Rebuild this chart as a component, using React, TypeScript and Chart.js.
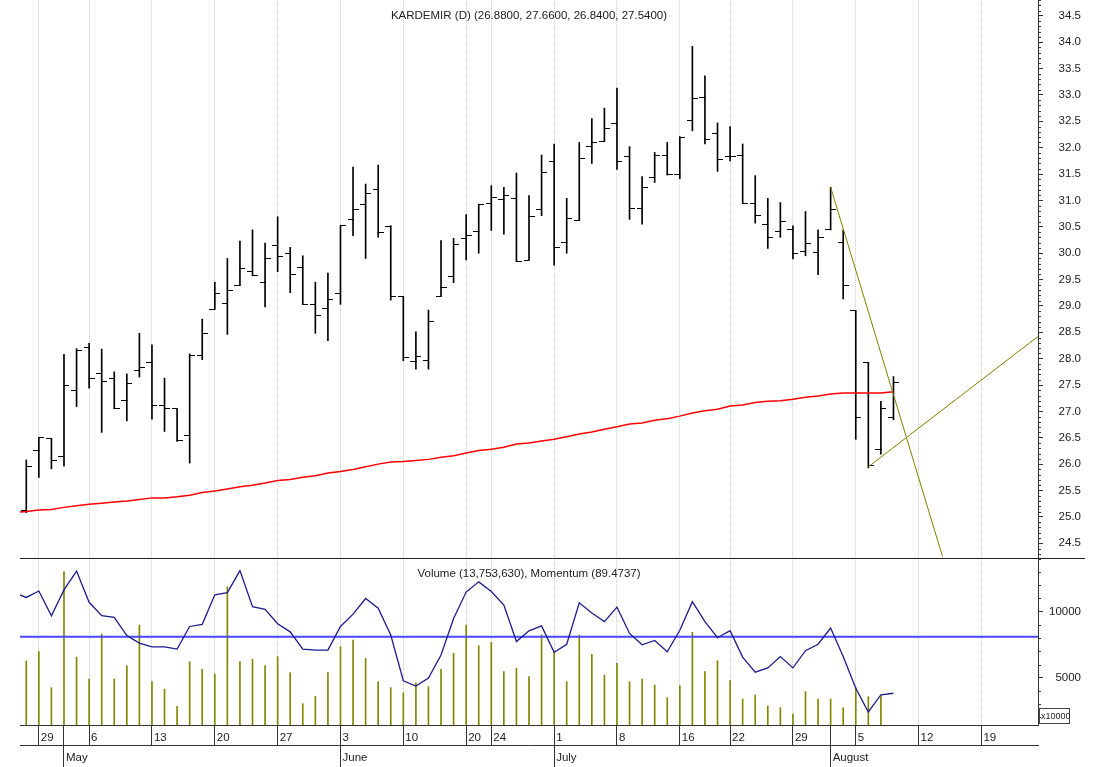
import React, { useEffect, useRef } from 'react';
import { Chart, registerables } from 'chart.js';

Chart.register(...registerables);

// ---------------- data ----------------
const SYMBOL = 'KARDEMIR';
const PERIOD = 'D';

const DATES = [
  '2024-04-25', '2024-04-26', '2024-04-29', '2024-04-30', '2024-05-02', '2024-05-03',
  '2024-05-06', '2024-05-07', '2024-05-08', '2024-05-09', '2024-05-10',
  '2024-05-13', '2024-05-14', '2024-05-15', '2024-05-16', '2024-05-17',
  '2024-05-20', '2024-05-21', '2024-05-22', '2024-05-23', '2024-05-24',
  '2024-05-27', '2024-05-28', '2024-05-29', '2024-05-30', '2024-05-31',
  '2024-06-03', '2024-06-04', '2024-06-05', '2024-06-06', '2024-06-07',
  '2024-06-10', '2024-06-11', '2024-06-12', '2024-06-13', '2024-06-14',
  '2024-06-20', '2024-06-21',
  '2024-06-24', '2024-06-25', '2024-06-26', '2024-06-27', '2024-06-28',
  '2024-07-01', '2024-07-02', '2024-07-03', '2024-07-04', '2024-07-05',
  '2024-07-08', '2024-07-09', '2024-07-10', '2024-07-11', '2024-07-12',
  '2024-07-16', '2024-07-17', '2024-07-18', '2024-07-19',
  '2024-07-22', '2024-07-23', '2024-07-24', '2024-07-25', '2024-07-26',
  '2024-07-29', '2024-07-30', '2024-07-31', '2024-08-01', '2024-08-02',
  '2024-08-05', '2024-08-06', '2024-08-07', '2024-08-08', '2024-08-09',
  '2024-08-12', '2024-08-13', '2024-08-14', '2024-08-15', '2024-08-16',
  '2024-08-19', '2024-08-20', '2024-08-21', '2024-08-22', '2024-08-23',
];

const MONTH_NAMES = ['January', 'February', 'March', 'April', 'May', 'June', 'July',
  'August', 'September', 'October', 'November', 'December'];

const OPEN = [null,
  25.12, 26.26, 26.49, 26.14, 27.39, 28.22, 27.72, 27.63, 27.20, 27.77,
  27.93, 27.11, 27.05, 26.54, 28.06, 28.94, 29.04, 29.39, 29.65, 29.45,
  30.15, 29.99, 29.73, 29.03, 28.96, 29.24, 30.64, 30.93, 31.21, 30.50,
  29.18, 27.94, 27.96, 29.18, 29.56, 30.27, 30.42, 30.95, 31.02, 31.04,
  29.87, 30.83, 31.74, 30.20, 30.62, 32.02, 32.12, 32.45, 31.84, 30.85,
  31.43, 31.86, 31.50, 32.51, 32.95, 32.26, 31.83, 31.86, 30.95, 30.55,
  30.41, 30.44, 30.03, 30.02, 30.44, 30.20, 28.91, 27.93, 26.27, 26.88];
const HIGH = [null,
  26.08, 26.51, 26.49, 28.08, 28.19, 28.29, 28.18, 27.75, 27.71, 28.48,
  28.26, 27.63, 27.05, 28.09, 28.75, 29.45, 29.90, 30.23, 30.44, 30.19,
  30.69, 30.11, 29.95, 29.45, 29.62, 30.52, 31.63, 31.31, 31.67, 30.52,
  29.18, 28.51, 28.92, 30.24, 30.28, 30.73, 30.93, 31.28, 31.25, 31.52,
  31.09, 31.86, 32.07, 31.04, 32.10, 32.55, 32.75, 33.13, 32.02, 31.45,
  31.91, 32.10, 32.21, 33.92, 33.36, 32.47, 32.40, 32.07, 31.47, 31.04,
  30.96, 30.52, 30.79, 30.44, 31.25, 30.44, 28.91, 27.93, 27.19, 27.66];
const LOW = [null,
  25.08, 25.75, 25.91, 25.96, 27.09, 27.44, 26.60, 27.05, 26.82, 27.65,
  26.85, 26.62, 26.43, 26.02, 27.98, 28.94, 28.46, 29.39, 29.57, 28.98,
  29.65, 29.25, 29.03, 28.48, 28.34, 29.03, 30.33, 29.90, 30.30, 29.11,
  27.96, 27.80, 27.80, 29.18, 29.44, 29.87, 30.00, 30.43, 30.36, 29.84,
  29.87, 30.71, 29.77, 30.00, 30.62, 31.70, 32.12, 31.59, 30.64, 30.55,
  31.34, 31.48, 31.41, 32.32, 32.07, 31.55, 31.75, 30.95, 30.57, 30.09,
  30.30, 29.89, 29.95, 29.59, 30.44, 29.13, 26.47, 25.93, 26.19, 26.84];
const CLOSE = [null,
  25.95, 26.51, 26.07, 27.49, 28.15, 27.63, 27.56, 27.05, 27.52, 27.84,
  27.11, 27.05, 26.44, 28.06, 28.47, 29.24, 29.29, 29.71, 29.57, 29.90,
  29.94, 29.59, 29.03, 28.82, 29.13, 30.52, 30.83, 31.14, 30.39, 29.18,
  28.03, 28.05, 28.70, 29.35, 30.16, 30.33, 30.93, 31.06, 31.09, 29.84,
  30.69, 31.53, 30.10, 30.66, 31.79, 32.09, 32.37, 31.74, 30.85, 31.24,
  31.86, 31.50, 32.20, 32.93, 32.15, 31.78, 31.84, 30.95, 30.71, 30.30,
  30.60, 29.99, 30.18, 30.30, 30.83, 29.39, 26.89, 25.97, 27.06, 27.54];

// volume in units of 10000 shares
const VOLUME_X10000 = [null,
  6265, 6970, 4242, 13030, 6568, 4901, 8311, 4901, 5909, 8992,
  4697, 4144, 2833, 6212, 5636, 5280, 11894, 6212, 6394, 5909,
  6591, 5379, 3030, 3591, 5379, 7348, 7856, 6470, 4697, 4242,
  3864, 4621, 4318, 5636, 6848, 8992, 7424, 7682, 5455, 5712,
  5076, 8235, 6970, 4697, 8235, 6773, 5205, 6091, 4697, 4901,
  4447, 3485, 4394, 8439, 5455, 6288, 4773, 3386, 3689, 2856,
  2727, 2250, 3939, 3386, 3386, 2727, 4242, 3561, 3689, 1375.363];

const MOMENTUM = [108.2,
  107.3, 108.5, 103.9, 108.7, 112.2, 106.4, 103.9, 103.6, 100.2, 98.8,
  98.1, 98.1, 97.7, 101.9, 102.3, 107.8, 108.2, 112.3, 105.6, 105.1,
  102.4, 100.9, 97.7, 97.5, 97.5, 101.9, 104.2, 107.1, 105.3, 100.3,
  91.8, 90.8, 92.3, 96.6, 103.4, 108.3, 110.2, 108.4, 105.9, 99.1,
  101.1, 102.0, 97.1, 98.6, 106.3, 104.4, 102.8, 105.5, 100.6, 98.5,
  99.3, 97.2, 101.2, 106.5, 102.8, 99.8, 101.1, 96.2, 93.4, 94.2,
  96.3, 94.2, 97.4, 98.6, 101.6, 96.3, 90.4, 86.0, 89.2, 89.4737];
const MOMENTUM_REFERENCE = 100;

const MOVING_AVERAGE = [25.08,
  25.10, 25.13, 25.14, 25.18, 25.21, 25.24, 25.26, 25.28, 25.30, 25.33,
  25.36, 25.36, 25.38, 25.41, 25.46, 25.49, 25.53, 25.57, 25.60, 25.64,
  25.69, 25.71, 25.75, 25.78, 25.83, 25.86, 25.90, 25.95, 26.00, 26.04,
  26.05, 26.07, 26.09, 26.13, 26.16, 26.21, 26.26, 26.28, 26.32, 26.38,
  26.40, 26.44, 26.47, 26.52, 26.57, 26.61, 26.66, 26.71, 26.76, 26.78,
  26.83, 26.86, 26.91, 26.97, 27.01, 27.04, 27.10, 27.12, 27.17, 27.19,
  27.20, 27.23, 27.27, 27.29, 27.33, 27.35, 27.35, 27.35, 27.35, 27.37];

// trend lines: x = position in DATES, y = price
const TREND_DOWN = [{ x: 65, y: 31.25 }, { x: 73.9, y: 24.25 }];
const TREND_UP = [{ x: 68, y: 25.95 }, { x: 81.5, y: 28.42 }];

const PRICE_TICKS = [24.5, 25.0, 25.5, 26.0, 26.5, 27.0, 27.5, 28.0, 28.5, 29.0, 29.5,
  30.0, 30.5, 31.0, 31.5, 32.0, 32.5, 33.0, 33.5, 34.0, 34.5];
const VOLUME_TICKS = [5000, 10000];
const PRICE_RANGE = [24.22, 34.80];
const VOLUME_RANGE = [1417, 14068];
const MOMENTUM_RANGE = [83.57, 114.64];

// ---------------- helpers ----------------
const FONT = '"Liberation Sans", Arial, sans-serif';
const TEXT = '#222';
const AXIS = '#333';
const PRICE_WEIGHT = 558;
const VOLUME_WEIGHT = 167;

function mondayOf(s: string) {
  const d = new Date(s + 'T00:00:00Z');
  const dow = (d.getUTCDay() + 6) % 7;
  return d.getTime() - dow * 86400000;
}
const WEEK_STARTS = DATES.map((d, i) => i > 0 && mondayOf(d) !== mondayOf(DATES[i - 1]));
const MONTH_STARTS = DATES.map((d, i) => i > 0 && d.slice(5, 7) !== DATES[i - 1].slice(5, 7));
const WEEK_TICKS = DATES.map((_, i) => i).filter((i) => WEEK_STARTS[i]);
const MONTH_TICKS = DATES.map((_, i) => i).filter((i) => MONTH_STARTS[i]);
const X1_TICKS = Array.from(new Set([...WEEK_TICKS, ...MONTH_TICKS])).sort((a, b) => a - b);

function makeTickImage(side: 'open' | 'close') {
  const c = document.createElement('canvas');
  c.width = 11;
  c.height = 1;
  const g = c.getContext('2d')!;
  g.fillStyle = '#000';
  if (side === 'open') g.fillRect(0, 0, 6, 1);
  else g.fillRect(5, 0, 6, 1);
  return c;
}

const last = OPEN.length - 1;
const PRICE_TITLE = `${SYMBOL} (${PERIOD}) (${(OPEN[last] as number).toFixed(4)}, ${(HIGH[last] as number).toFixed(4)}, ${(LOW[last] as number).toFixed(4)}, ${(CLOSE[last] as number).toFixed(4)})`;
const VOLUME_TITLE = `Volume (${Math.round((VOLUME_X10000[last] as number) * 10000).toLocaleString('en-US')}), Momentum (${MOMENTUM[last].toFixed(4)})`;

const decorPlugin = {
  id: 'decor',
  afterDraw(chart: any) {
    const { ctx, chartArea } = chart;
    const py = chart.scales.y;
    const vy = chart.scales.yv;
    ctx.save();
    ctx.strokeStyle = AXIS;
    ctx.lineWidth = 1;
    ctx.beginPath();
    for (let k = Math.ceil(py.min * 10); k <= Math.floor(py.max * 10); k++) {
      if (k % 5 === 0) continue;
      const p = Math.round(py.getPixelForValue(k / 10)) + 0.5;
      ctx.moveTo(py.left, p);
      ctx.lineTo(py.left + 3, p);
    }
    for (let k = Math.ceil(vy.min / 1000); k <= Math.floor(vy.max / 1000); k++) {
      if (k % 5 === 0) continue;
      const p = Math.round(vy.getPixelForValue(k * 1000)) + 0.5;
      ctx.moveTo(vy.left, p);
      ctx.lineTo(vy.left + 3, p);
    }
    ctx.stroke();
    // separator between price and volume panels
    const sep = Math.round(vy.top) + 0.5;
    ctx.strokeStyle = '#222';
    ctx.beginPath();
    ctx.moveTo(chartArea.left, sep);
    ctx.lineTo(vy.left + 47, sep);
    ctx.stroke();
    // unit box
    ctx.strokeStyle = '#444';
    ctx.strokeRect(Math.round(vy.left) + 1.5, Math.round(vy.bottom) - 16.5, 30, 15);
    ctx.fillStyle = TEXT;
    ctx.font = `9px ${FONT}`;
    ctx.textAlign = 'left';
    ctx.textBaseline = 'middle';
    ctx.fillText('x10000', vy.left + 3, vy.bottom - 8.5);
    // titles
    ctx.font = `11.5px ${FONT}`;
    ctx.textAlign = 'center';
    const cx = (chartArea.left + chartArea.right) / 2;
    ctx.fillText(PRICE_TITLE, cx, py.top + 16);
    ctx.fillText(VOLUME_TITLE, cx, vy.top + 16);
    ctx.restore();
  },
};

export default function App() {
  const ref = useRef<HTMLCanvasElement>(null);

  useEffect(() => {
    const canvas = ref.current;
    if (!canvas) return;
    Chart.defaults.font.family = FONT;
    Chart.defaults.font.size = 11.5;
    Chart.defaults.color = TEXT;

    const openImg = makeTickImage('open');
    const closeImg = makeTickImage('close');

    const barIdx = DATES.map((_, i) => i).filter((i) => HIGH[i] != null);
    const hlData = barIdx.map((i) => ({ x: i, y: [LOW[i] as number, HIGH[i] as number] }));
    const openData = barIdx.map((i) => ({ x: i, y: OPEN[i] as number }));
    const closeData = barIdx.map((i) => ({ x: i, y: CLOSE[i] as number }));
    const volData = barIdx.map((i) => ({ x: i, y: VOLUME_X10000[i] as number }));
    const momData = MOMENTUM.map((v, i) => ({ x: i, y: v }));
    const maData = MOVING_AVERAGE.map((v, i) => ({ x: i, y: v }));
    const xMin = 0.5;
    const xMax = DATES.length - 0.5;
    const momMax = MOMENTUM_RANGE[0] + (MOMENTUM_RANGE[1] - MOMENTUM_RANGE[0]) * (PRICE_WEIGHT + VOLUME_WEIGHT) / VOLUME_WEIGHT;

    const noPad = (s: any) => { s.paddingLeft = 0; s.paddingRight = 0; s.paddingTop = 0; s.paddingBottom = 0; };

    const chart = new Chart(canvas, {
      type: 'line',
      data: {
        datasets: [
          { type: 'line', data: TREND_DOWN, yAxisID: 'y', borderColor: '#808000', borderWidth: 1, pointRadius: 0, clip: 0 } as any,
          { type: 'line', data: TREND_UP, yAxisID: 'y', borderColor: '#808000', borderWidth: 1, pointRadius: 0, clip: 0 } as any,
          { type: 'line', data: momData, yAxisID: 'ym', borderColor: '#1c1c8c', borderWidth: 1.3, pointRadius: 0, tension: 0 } as any,
          { type: 'line', data: [{ x: xMin, y: MOMENTUM_REFERENCE }, { x: xMax, y: MOMENTUM_REFERENCE }], yAxisID: 'ym', borderColor: '#4848ff', borderWidth: 2, pointRadius: 0 } as any,
          { type: 'line', data: maData, yAxisID: 'y', borderColor: '#ff0000', borderWidth: 1.5, pointRadius: 0, tension: 0 } as any,
          { type: 'line', data: openData, yAxisID: 'y', showLine: false, pointStyle: openImg, pointRadius: 3 } as any,
          { type: 'line', data: closeData, yAxisID: 'y', showLine: false, pointStyle: closeImg, pointRadius: 3 } as any,
          { type: 'bar', data: hlData, yAxisID: 'y', backgroundColor: '#000', borderWidth: 0, barThickness: 1, grouped: false } as any,
          { type: 'bar', data: volData, yAxisID: 'yv', backgroundColor: '#858500', borderWidth: 0, barThickness: 1, grouped: false, clip: 0 } as any,
        ],
      },
      options: {
        animation: false,
        responsive: false,
        events: [],
        layout: { autoPadding: false, padding: { left: 20, right: 20, top: 0, bottom: 0 } },
        plugins: { legend: { display: false }, tooltip: { enabled: false }, title: { display: false } },
        scales: {
          x: {
            type: 'linear', min: xMin, max: xMax, position: 'bottom', offset: false,
            afterBuildTicks: (s: any) => { s.ticks = X1_TICKS.map((v) => ({ value: v })); },
            afterFit: (s: any) => { s.height = 20; noPad(s); },
            grid: {
              offset: false, lineWidth: 1, tickLength: 20, tickColor: AXIS, tickWidth: 1, tickBorderDash: [],
              color: (c: any) => (c.tick && WEEK_STARTS[c.tick.value] ? '#cdcdcd' : 'rgba(0,0,0,0)'),
              borderDash: [1, 1],
            },
            border: { display: true, color: AXIS, width: 1, dash: [1, 1] },
            ticks: {
              autoSkip: false, maxRotation: 0, minRotation: 0, align: 'start', labelOffset: 2, padding: -14,
              color: TEXT, font: { size: 11.5 },
              callback: (v: any) => (WEEK_STARTS[v] ? String(Number(DATES[v].slice(8, 10))) : ''),
            },
          },
          x2: {
            type: 'linear', min: xMin, max: xMax, position: 'bottom', offset: false,
            afterBuildTicks: (s: any) => { s.ticks = MONTH_TICKS.map((v) => ({ value: v })); },
            afterFit: (s: any) => { s.height = 22; noPad(s); },
            grid: { drawOnChartArea: false, tickLength: 22, tickColor: AXIS, color: AXIS, tickWidth: 1, offset: false },
            border: { display: true, color: AXIS, width: 1 },
            ticks: {
              autoSkip: false, maxRotation: 0, minRotation: 0, align: 'start', labelOffset: 2, padding: -16.5,
              color: TEXT, font: { size: 11.5 },
              callback: (v: any) => MONTH_NAMES[Number(DATES[v].slice(5, 7)) - 1],
            },
          },
          y: {
            type: 'linear', position: 'right', stack: 'r', stackWeight: PRICE_WEIGHT,
            min: PRICE_RANGE[0], max: PRICE_RANGE[1],
            afterBuildTicks: (s: any) => { s.ticks = PRICE_TICKS.map((v) => ({ value: v })); },
            afterFit: (s: any) => { s.width = 43; noPad(s); },
            grid: { drawOnChartArea: false, tickLength: 5, tickColor: AXIS, tickWidth: 1 },
            border: { display: true, color: AXIS, width: 1 },
            ticks: { autoSkip: false, padding: 15, crossAlign: 'far', color: TEXT, font: { size: 11.5 }, callback: (v: any) => Number(v).toFixed(1) },
          },
          yv: {
            type: 'linear', position: 'right', stack: 'r', stackWeight: VOLUME_WEIGHT,
            min: VOLUME_RANGE[0], max: VOLUME_RANGE[1],
            afterBuildTicks: (s: any) => { s.ticks = VOLUME_TICKS.map((v) => ({ value: v })); },
            afterFit: (s: any) => { s.width = 43; noPad(s); },
            grid: { drawOnChartArea: false, tickLength: 5, tickColor: AXIS, tickWidth: 1 },
            border: { display: true, color: AXIS, width: 1 },
            ticks: { autoSkip: false, padding: 5, crossAlign: 'far', color: TEXT, font: { size: 11.5 }, callback: (v: any) => String(v) },
          },
          ym: {
            type: 'linear', position: 'right', display: false,
            min: MOMENTUM_RANGE[0], max: momMax,
            ticks: { display: false },
            afterFit: (s: any) => { s.width = 0; noPad(s); },
          },
        },
      } as any,
      plugins: [decorPlugin],
    });
    return () => chart.destroy();
  }, []);

  return (
    <div style={{ position: 'absolute', left: 0, top: 0, width: 1101, height: 767, background: '#fff' }}>
      <canvas ref={ref} width={1101} height={767} style={{ display: 'block' }} />
    </div>
  );
}
